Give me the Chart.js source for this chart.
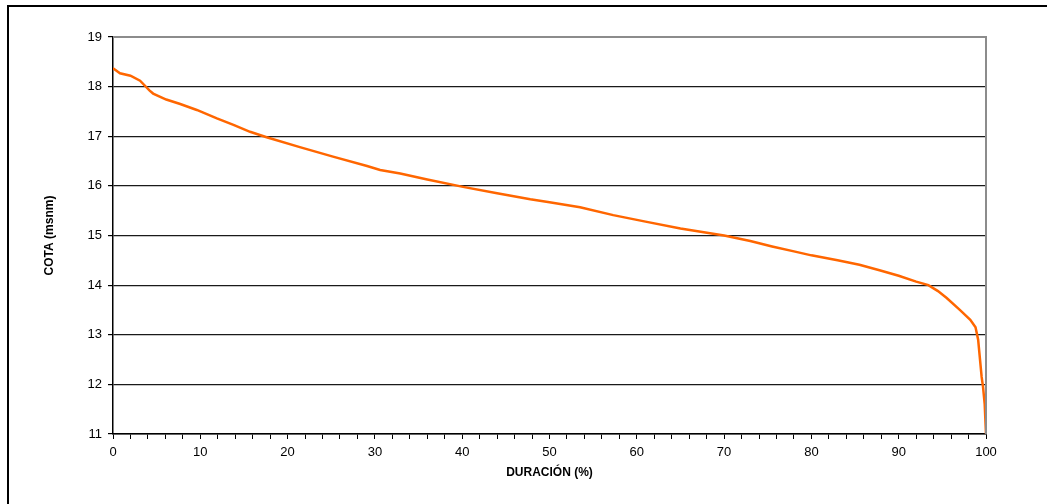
<!DOCTYPE html>
<html>
<head>
<meta charset="utf-8">
<script src="https://cdn.jsdelivr.net/npm/chart.js@4/dist/chart.umd.min.js"></script>
<style>
  html, body { margin: 0; padding: 0; background: #fff; }
  #wrap { position: relative; width: 1047px; height: 504px; }
</style>
</head>
<body>
<div id="wrap"><canvas id="curvaChart"></canvas></div>
<script>
/* Curva de duración de cotas */
const duracion = [0, 0.8, 2, 3.1, 4.2, 4.6, 6.1, 7.7, 9.6, 11.9, 13.8, 15.7, 17.6, 21.4, 25.2, 29.1, 30.6, 32.9, 36, 40.1,
                  44, 47.8, 50, 53.5, 57.3, 61, 65, 70, 73, 75.5, 78, 80, 83, 85.5, 87.8, 90, 92, 93.4, 94.5,
                  95.5, 97, 98.2, 98.8, 99.1, 99.5, 99.66, 99.85, 100];
const cota     = [18.37, 18.27, 18.22, 18.12, 17.92, 17.86, 17.74, 17.65, 17.53, 17.36, 17.23, 17.09, 16.98, 16.78, 16.59, 16.4, 16.32, 16.25, 16.13, 15.98,
                  15.85, 15.73, 15.67, 15.57, 15.41, 15.28, 15.14, 15.0, 14.89, 14.78, 14.68, 14.6, 14.5, 14.41, 14.3, 14.19, 14.07, 14.0, 13.88,
                  13.74, 13.5, 13.3, 13.15, 12.9, 12.15, 11.95, 11.6, 11.0];
const yTicks = [11, 12, 13, 14, 15, 16, 17, 18, 19];

const FONT = 'Liberation Sans, Arial, sans-serif';

const framePlugin = {
    id: 'frame',
    afterDraw(chart) {
        const { ctx, chartArea: a } = chart;
        ctx.save();
        // bordes del área de trazado (gris)
        ctx.strokeStyle = '#8c8c8c';
        ctx.lineWidth = 2;
        ctx.beginPath();
        ctx.moveTo(a.left, a.top);
        ctx.lineTo(a.right, a.top);
        ctx.lineTo(a.right, a.bottom);
        ctx.stroke();
        // marco exterior
        ctx.fillStyle = '#000';
        ctx.fillRect(7, 5, 1040, 2);
        ctx.fillRect(7, 5, 2, 499);
        ctx.restore();
    }
};

new Chart(document.getElementById('curvaChart'), {
    type: 'scatter',
    data: {
        datasets: [{
            data: duracion.map((x, i) => ({ x: x, y: cota[i] })),
            showLine: true,
            borderColor: '#ff6600',
            borderWidth: 2.5,
            pointRadius: 0,
            tension: 0,
            fill: false
        }]
    },
    options: {
        responsive: true,
        maintainAspectRatio: false,
        animation: false,
        layout: { padding: { left: 38, right: 61, top: 37, bottom: 20 } },
        plugins: { legend: { display: false }, tooltip: { enabled: false } },
        scales: {
            x: {
                type: 'linear',
                min: 0, max: 100,
                afterFit: s => { s.height = 50; },
                grid: { drawOnChartArea: false, drawTicks: true, tickLength: 5, color: '#000' },
                border: { color: '#000', width: 1.5 },
                ticks: {
                    stepSize: 2, autoSkip: false, maxRotation: 0, padding: 6,
                    color: '#000', font: { family: FONT, size: 13 },
                    callback: v => (v % 10 === 0 ? v : '')
                },
                title: {
                    display: true, text: 'DURACIÓN (%)', color: '#000',
                    font: { family: FONT, size: 12, weight: 'bold' }, padding: { top: 3 }
                }
            },
            y: {
                min: 11, max: 19,
                afterFit: s => { s.width = 75; },
                afterBuildTicks: s => { s.ticks = yTicks.map(v => ({ value: v })); },
                grid: {
                    color: c => (c.tick && c.tick.value === 19 ? '#8c8c8c' : '#1a1a1a'),
                    lineWidth: 1.2, tickLength: 5, tickColor: '#000'
                },
                border: { color: '#000', width: 1.5 },
                ticks: { color: '#000', padding: 6, font: { family: FONT, size: 13 } },
                title: {
                    display: true, text: 'COTA (msnm)', color: '#000',
                    font: { family: FONT, size: 12, weight: 'bold' }, padding: { top: 4, bottom: 4 }
                }
            }
        }
    },
    plugins: [framePlugin]
});
</script>
</body>
</html>
